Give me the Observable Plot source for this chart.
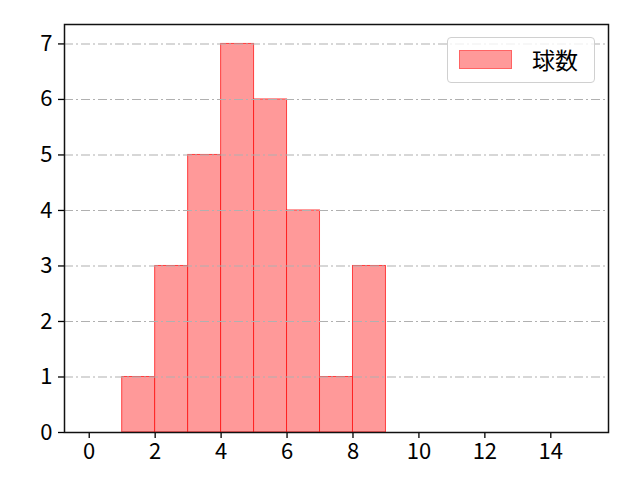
<!DOCTYPE html>
<html><head><meta charset="utf-8">
<script src="https://cdn.jsdelivr.net/npm/d3@7"></script>
<script src="https://cdn.jsdelivr.net/npm/@observablehq/plot@0.6"></script>
<style>
body{margin:0;background:#fff}
#wrap{position:relative;width:640px;height:480px;font-family:'Noto Sans CJK JP',sans-serif}
#legend{position:absolute;left:447px;top:37px;width:146px;height:44px;border:1px solid #d0d0d0;border-radius:4px;background:rgba(255,255,255,0.8)}
#legend .sw{position:absolute;left:11px;top:12px;width:51px;height:17px;background:#ff9999;border:1px solid rgba(255,0,0,0.35)}
#legend .lb{position:absolute;left:84px;top:6px;font-size:23px;line-height:30px;color:#000}
</style>
</head><body><div id="wrap"></div>
<script>
const binStarts = [1, 2, 3, 4, 5, 6, 7, 8];
const binEnds   = [2, 3, 4, 5, 6, 7, 8, 9];
const counts    = [1, 3, 5, 7, 6, 4, 1, 3];
const xTicks = [0, 2, 4, 6, 8, 10, 12, 14];
const yTicks = [0, 1, 2, 3, 4, 5, 6, 7];
const seriesName = "球数";

const data = counts.map((c, i) => ({x1: binStarts[i], x2: binEnds[i], y: c}));

const plot = Plot.plot({
  width: 640, height: 480,
  marginLeft: 64, marginRight: 32, marginTop: 24, marginBottom: 48,
  style: {fontFamily: "'Noto Sans CJK JP', sans-serif", fontSize: "22px", color: "#000", background: "#fff"},
  x: {domain: [-0.75, 15.75], label: null},
  y: {domain: [0, 7.35], label: null},
  marks: [
    Plot.rectY(data, {x1: "x1", x2: "x2", y: "y", fill: "#ff9999", stroke: "red", strokeOpacity: 0.7, strokeWidth: 1}),
    Plot.ruleY(yTicks.slice(1), {stroke: "#b0b0b0", strokeWidth: 1.1, strokeDasharray: "9,3,2,3"}),
    Plot.axisX({ticks: xTicks, tickSize: 6, tickPadding: 5, strokeWidth: 1.3, label: null}),
    Plot.axisY({ticks: yTicks, tickSize: 6, tickPadding: 6, strokeWidth: 1.3, label: null}),
    Plot.frame({stroke: "#111", strokeWidth: 1.5})
  ]
});
const wrap = document.getElementById("wrap");
wrap.appendChild(plot);
const lg = document.createElement("div");
lg.id = "legend";
lg.innerHTML = '<div class="sw"></div><div class="lb"></div>';
lg.querySelector(".lb").textContent = seriesName;
wrap.appendChild(lg);
</script>
</body></html>
